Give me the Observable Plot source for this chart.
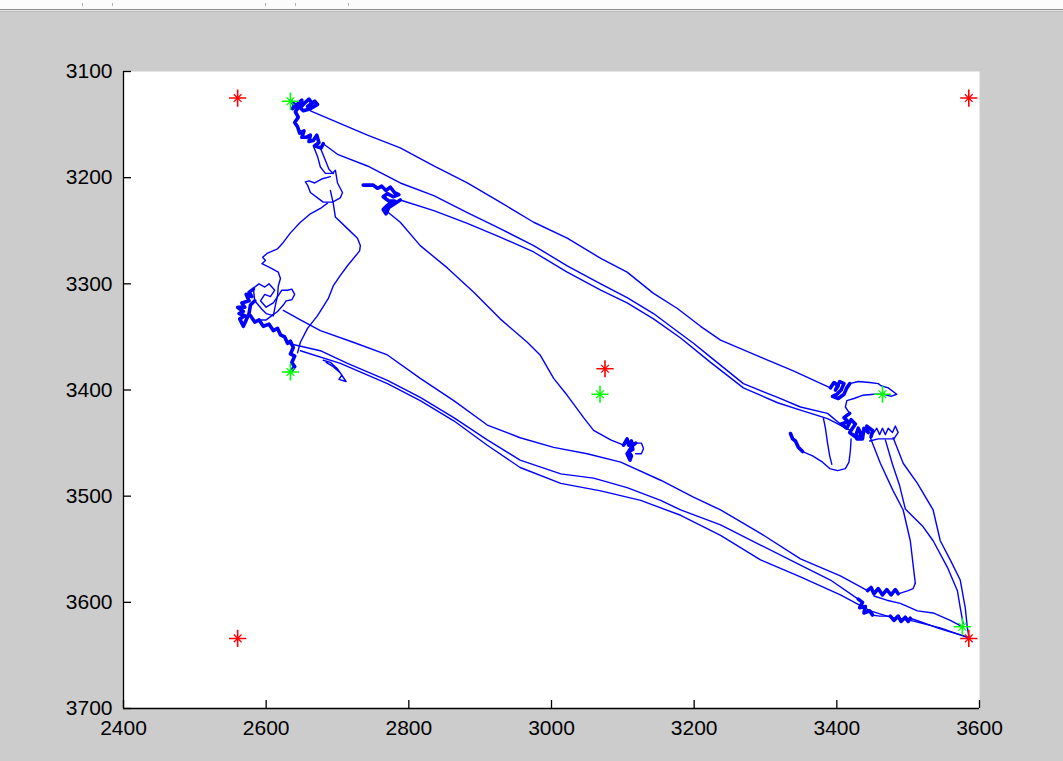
<!DOCTYPE html>
<html><head><meta charset="utf-8">
<script src="https://cdn.jsdelivr.net/npm/d3@7"></script>
<script src="https://cdn.jsdelivr.net/npm/@observablehq/plot@0.6"></script>
<style>
html,body{margin:0;padding:0;background:#cccccc;width:1063px;height:761px;overflow:hidden;font-family:"Liberation Sans",Arial,sans-serif;}
#bar{position:relative;height:9px;background:#fbfbfb;}
#bar i{position:absolute;top:3px;width:1px;height:3px;background:#b0b0b0;}
#rule1{height:1px;background:#8c8c8c;}
#rule2{height:1px;background:#e4e4e4;}
#rule3{height:1px;background:#bdbdbd;}
</style></head><body>
<div id="bar"><i style="left:82px"></i><i style="left:112px"></i><i style="left:265px"></i><i style="left:295px"></i><i style="left:348px"></i></div>
<div id="rule1"></div><div id="rule2"></div><div id="rule3"></div>
<div id="chart"></div>
<script>
// Axis ticks
const xTicks = [2400, 2600, 2800, 3000, 3200, 3400, 3600];
const yTicks = [3100, 3200, 3300, 3400, 3500, 3600, 3700];

// Reference markers (red) and detected markers (green)
const redX = [2560, 3585, 2560, 3585, 3075];
const redY = [3125, 3125, 3634, 3634, 3380];
const greenX = [2634, 2634, 3464, 3576, 3068];
const greenY = [3128, 3383, 3404, 3623, 3404];

// Trajectory: dense jitter clusters (x, y)
const blobTL = [[2634,3128],[2640,3131],[2637,3135],[2645,3130],[2650,3127],[2648,3134],[2655,3129],[2660,3126],[2664,3130],[2658,3133],[2668,3128],[2672,3131],[2662,3135],[2652,3137],[2646,3133],[2641,3138],[2645,3143],[2640,3148],[2644,3152],[2647,3158],[2653,3156],[2650,3162],[2656,3162],[2662,3160],[2660,3166],[2666,3165],[2671,3160],[2674,3167],[2668,3170],[2677,3172],[2680,3168]];
const blobC = [[2736,3207],[2750,3207],[2756,3210],[2762,3208],[2768,3212],[2774,3209],[2780,3214],[2786,3216],[2778,3218],[2770,3215],[2764,3218],[2772,3222],[2780,3222],[2770,3226],[2764,3230],[2768,3234],[2772,3228],[2788,3221]];
const blobCenter = [[3101,3452],[3106,3446],[3108,3452],[3112,3448],[3114,3456],[3108,3458],[3112,3462],[3110,3466],[3106,3460],[3114,3452],[3118,3450]];
const blobLeftA = [[2582,3305],[2576,3308],[2580,3312],[2572,3310],[2576,3316],[2566,3318],[2570,3322],[2560,3322],[2568,3326],[2562,3328],[2570,3330],[2563,3333],[2568,3340],[2572,3334],[2576,3328],[2578,3320],[2584,3316]];
const blobLeftB = [[2578,3330],[2584,3336],[2590,3334],[2596,3340],[2604,3338],[2610,3344],[2616,3342],[2620,3348],[2626,3350],[2630,3356],[2634,3354],[2638,3360],[2634,3366],[2640,3368],[2636,3374],[2640,3378],[2635,3382]];
const blobUR = [[3391,3398],[3396,3393],[3402,3396],[3398,3400],[3404,3392],[3410,3394],[3406,3400],[3400,3404],[3394,3406],[3402,3408],[3410,3404],[3414,3398],[3418,3394]];
const blobRC = [[3418,3422],[3410,3426],[3416,3430],[3406,3432],[3414,3436],[3420,3428],[3426,3432],[3418,3440],[3426,3444],[3430,3436],[3434,3442],[3428,3446],[3436,3446],[3438,3436],[3444,3440],[3442,3434],[3450,3438],[3448,3444]];
const blobHook = [[3335,3441],[3338,3446],[3342,3448],[3346,3454],[3352,3458]];
const blobTB = [[3443,3589],[3448,3586],[3452,3592],[3458,3587],[3464,3593],[3470,3588],[3476,3593],[3482,3588],[3486,3592]];
const blobMB = [[3430,3597],[3436,3600],[3432,3605],[3440,3604],[3438,3610],[3446,3608],[3450,3612]];
const blobBB = [[3475,3613],[3480,3617],[3486,3613],[3490,3618],[3496,3614],[3500,3618],[3503,3615]];

// Trajectory: travel paths (x, y)
const segA = [[2662,3137],[2700,3148],[2742,3160],[2788,3172],[2835,3189],[2882,3205],[2928,3223],[2975,3242],[3022,3257],[3069,3276],[3106,3289],[3143,3309],[3176,3323],[3209,3340],[3237,3353],[3293,3369],[3339,3382],[3391,3398]];
const segB = [[2680,3168],[2700,3178],[2742,3189],[2788,3205],[2835,3217],[2882,3233],[2928,3248],[2975,3264],[3022,3283],[3069,3300],[3106,3313],[3143,3328],[3181,3347],[3199,3356],[3223,3369],[3269,3394],[3317,3407],[3349,3416],[3387,3422],[3412,3436]];
const segC = [[2788,3221],[2835,3231],[2882,3243],[2928,3256],[2975,3270],[3022,3289],[3069,3306],[3106,3318],[3143,3333],[3181,3351],[3223,3374],[3269,3398],[3317,3412],[3349,3419],[3387,3427],[3419,3438]];
const segDiag = [[2766,3230],[2788,3242],[2816,3264],[2854,3285],[2891,3308],[2928,3333],[2966,3355],[2984,3367],[3003,3389],[3022,3405],[3045,3426],[3059,3438],[3083,3447],[3101,3452]];
const segCenterLoop = [[3118,3450],[3126,3450],[3129,3455],[3126,3460],[3118,3460]];
const segLoopA = [[2666,3170],[2672,3180],[2676,3190],[2683,3196],[2693,3196],[2697,3193],[2700,3205],[2707,3214],[2704,3219],[2693,3223],[2680,3223],[2672,3219],[2662,3214],[2658,3207],[2655,3204],[2660,3203],[2668,3205],[2679,3201],[2690,3199]];
const segLoopB = [[2676,3172],[2682,3182],[2688,3192],[2694,3196]];
const segLeftDown = [[2690,3212],[2694,3224],[2697,3237],[2714,3248],[2728,3257],[2732,3264],[2731,3269],[2714,3283],[2704,3292],[2694,3302],[2687,3314],[2672,3330],[2658,3342],[2648,3355],[2644,3365]];
const segLeftLeft = [[2686,3224],[2676,3229],[2662,3234],[2648,3242],[2634,3252],[2624,3261],[2616,3267],[2602,3271],[2595,3275],[2599,3278],[2594,3281],[2606,3285],[2617,3289],[2620,3295],[2617,3302],[2616,3311],[2613,3320],[2610,3330]];
const segLeftLoops = [[2610,3330],[2600,3328],[2594,3324],[2584,3316],[2582,3304],[2590,3300],[2598,3303],[2604,3300],[2612,3306],[2606,3312],[2598,3310],[2592,3316],[2600,3322],[2610,3318],[2616,3312],[2622,3306],[2630,3306],[2636,3305],[2640,3310],[2636,3315],[2628,3316],[2624,3320],[2616,3326],[2608,3330],[2600,3334],[2590,3334]];
const segD = [[2624,3325],[2648,3334],[2676,3344],[2722,3355],[2770,3367],[2816,3389],[2863,3410],[2910,3433],[2956,3445],[3003,3454],[3050,3460],[3097,3468],[3153,3485],[3199,3501],[3237,3513],[3293,3535],[3349,3559],[3405,3575],[3443,3589]];
const segE = [[2630,3356],[2676,3363],[2714,3375],[2770,3391],[2816,3407],[2863,3426],[2910,3447],[2956,3466],[3013,3479],[3059,3483],[3106,3492],[3153,3504],[3181,3513],[3237,3527],[3293,3546],[3349,3565],[3391,3579],[3430,3597]];
const segF = [[2648,3363],[2704,3375],[2770,3394],[2816,3410],[2863,3429],[2910,3452],[2956,3473],[3013,3488],[3069,3495],[3125,3504],[3181,3518],[3237,3537],[3293,3560],[3349,3576],[3405,3593],[3447,3608],[3475,3614],[3503,3617],[3545,3624],[3583,3633]];
const segSmallLoop = [[2680,3372],[2690,3374],[2700,3380],[2706,3386],[2702,3390],[2712,3392],[2704,3384],[2694,3378],[2684,3374]];
const segURGreen = [[3418,3394],[3430,3392],[3446,3393],[3458,3394],[3462,3396],[3472,3398],[3484,3404],[3476,3406],[3466,3404],[3452,3404],[3436,3405],[3424,3408],[3414,3410],[3412,3416],[3418,3422]];
const segRCChain = [[3448,3444],[3456,3436],[3460,3442],[3464,3436],[3468,3442],[3472,3436],[3478,3440],[3482,3434],[3486,3440],[3480,3446],[3470,3446],[3458,3446],[3446,3448]];
const segHook = [[3352,3458],[3366,3462],[3380,3468],[3390,3474],[3401,3476],[3412,3474],[3417,3468],[3419,3457],[3420,3446]];
const segHook2 = [[3381,3426],[3384,3436],[3387,3450],[3390,3462],[3393,3470]];
const segR1 = [[3447,3445],[3461,3469],[3479,3495],[3493,3513],[3503,3542],[3507,3565],[3510,3582]];
const segR2 = [[3479,3445],[3493,3469],[3513,3488],[3535,3513],[3545,3542],[3559,3560],[3573,3579],[3580,3605],[3583,3624],[3585,3632]];
const segR3 = [[3468,3447],[3478,3470],[3488,3490],[3496,3512],[3520,3528],[3535,3542],[3555,3567],[3569,3589],[3573,3605],[3577,3620]];
const segMBBB = [[3450,3612],[3460,3613],[3475,3613]];
const segBBGreen = [[3503,3615],[3520,3619],[3545,3625],[3560,3628],[3575,3631],[3583,3633]];
const segTBR1 = [[3486,3592],[3500,3589],[3507,3587],[3510,3582]];
const segTBGreen = [[3452,3594],[3470,3598],[3489,3601],[3513,3608],[3535,3610],[3559,3617],[3573,3622]];

const toRows = obj => Object.entries(obj).flatMap(([seg, pts]) => pts.map(([x, y]) => ({seg, x, y})));
const blobs = toRows({blobTL, blobC, blobCenter, blobLeftA, blobLeftB, blobUR, blobRC, blobHook, blobTB, blobMB, blobBB});
const paths = toRows({segA, segB, segC, segDiag, segCenterLoop, segLoopA, segLoopB, segLeftDown, segLeftLeft, segLeftLoops, segD, segE, segF, segSmallLoop, segURGreen, segRCChain, segHook, segHook2, segR1, segR2, segR3, segMBBB, segBBGreen, segTBR1, segTBGreen});
const red = redX.map((x, i) => ({x, y: redY[i]}));
const green = greenX.map((x, i) => ({x, y: greenY[i]}));

const fmt = d3.format("d");
const chart = Plot.plot({
  width: 1063, height: 749,
  marginTop: 59, marginBottom: 53, marginLeft: 123, marginRight: 84,
  x: {domain: [2400, 3600], label: null},
  y: {domain: [3100, 3700], reverse: true, label: null},
  style: {background: "transparent", fontFamily: "'Liberation Sans', Arial, sans-serif", fontSize: "21px", color: "#000", overflow: "visible"},
  marks: [
    Plot.frame({fill: "white", stroke: "none"}),
    Plot.line(paths, {x: "x", y: "y", z: "seg", stroke: "#0000ff", strokeWidth: 1.4}),
    Plot.line(blobs, {x: "x", y: "y", z: "seg", stroke: "#0000ff", strokeWidth: 3.6, strokeLinejoin: "round"}),
    Plot.dot(red, {x: "x", y: "y", symbol: "plus", r: 5.6, stroke: "#ff0000", strokeWidth: 1.6}),
    Plot.dot(red, {x: "x", y: "y", symbol: "times", r: 3.6, stroke: "#ff0000", strokeWidth: 1.3}),
    Plot.dot(red, {x: "x", y: "y", r: 1.6, fill: "#ff0000"}),
    Plot.dot(green, {x: "x", y: "y", symbol: "plus", r: 5.6, stroke: "#00ff00", strokeWidth: 1.6}),
    Plot.dot(green, {x: "x", y: "y", symbol: "times", r: 3.6, stroke: "#00ff00", strokeWidth: 1.3}),
    Plot.dot(green, {x: "x", y: "y", r: 1.6, fill: "#00ff00"}),
    Plot.ruleX([2400], {stroke: "#000", strokeWidth: 1.3}),
    Plot.ruleY([3700], {stroke: "#000", strokeWidth: 1.3}),
    Plot.tickX(xTicks, {x: d => d, insetTop: 629, stroke: "#000", strokeWidth: 1.3}),
    Plot.tickY(yTicks, {y: d => d, insetRight: 848, stroke: "#000", strokeWidth: 1.3}),
    Plot.axisX(xTicks, {tickSize: 0, tickPadding: 12, label: null, tickFormat: fmt, fontSize: 21}),
    Plot.axisY(yTicks, {tickSize: 0, tickPadding: 11, label: null, tickFormat: fmt, fontSize: 21})
  ]
});
document.getElementById("chart").appendChild(chart);
</script>
</body></html>
